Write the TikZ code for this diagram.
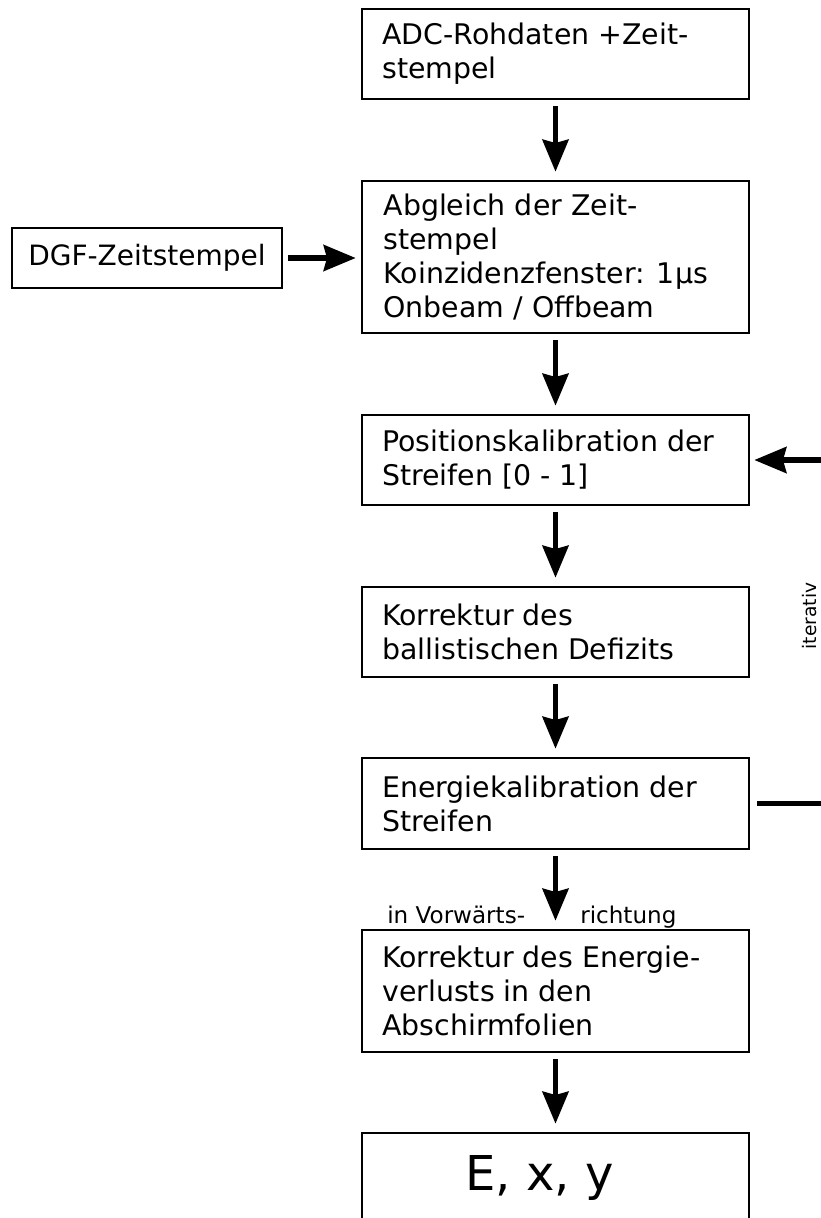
\documentclass[tikz,border=0pt]{standalone}
\usepackage{fontspec}
\setmainfont{DejaVu Sans}
\usetikzlibrary{arrows.meta}
\begin{document}
\begin{tikzpicture}[x=0.75pt,y=-0.75pt,
  box/.style={draw,line width=2pt,minimum width=290.25pt,inner sep=0pt},
  txt/.style={inner sep=0pt,align=left,anchor=west,font=\fontsize{21.3pt}{25.5pt}\selectfont},
  lbl/.style={inner sep=0pt,anchor=base west,font=\fontsize{17.3pt}{19pt}\selectfont},
  arr/.style={line width=3.8pt,-{Stealth[length=24pt,width=19.5pt,inset=2.5pt]}},
  vflow/.style={arr,shorten <=4.5pt,shorten >=6pt},
  plain/.style={line width=3.8pt}
]
\useasboundingbox (0,0) rectangle (821,1218);

% boxes
\node[box,minimum height=67.5pt] (b1) at (555.5,54) {};
\node[txt] (t1) at ([xshift=16pt]b1.west) {ADC-Rohdaten +Zeit-\\stempel};

\node[box,minimum height=114pt] (b2) at (555.5,257) {};
\node[txt] (t2) at ([xshift=17pt]b2.west) {Abgleich der Zeit-\\stempel\\Koinzidenzfenster: 1µs\\Onbeam / Offbeam};

\node[box,minimum width=202.5pt,minimum height=45pt,font=\fontsize{21pt}{25.5pt}\selectfont] (dgf) at (147,258) {DGF-Zeitstempel};

\node[box,minimum height=67.5pt] (b3) at (555.5,460) {};
\node[txt] (t3) at ([xshift=16pt]b3.west) {Positionskalibration der\\Streifen [0 - 1]};

\node[box,minimum height=67.5pt] (b4) at (555.5,632) {};
\node[txt] (t4) at ([xshift=16pt]b4.west) {Korrektur des\\ballistischen Defizits};

\node[box,minimum height=68.25pt] (b5) at (555.5,803.5) {};
\node[txt] (t5) at ([xshift=16pt]b5.west) {Energiekalibration der\\Streifen};

\node[box,minimum height=91.5pt] (b6) at (555.5,991) {};
\node[txt] (t6) at ([xshift=16pt]b6.west) {Korrektur des Energie-\\verlusts in den\\Abschirmfolien};

\node[box,minimum height=67.5pt] (b7) at (555.5,1178) {};
\node[inner sep=0pt,anchor=base west,font=\fontsize{36pt}{40pt}\selectfont] (t7) at (465,1190) {E, x, y};

% connectors
\draw[vflow] (b1) -- (b2);
\draw[vflow] (b2) -- (b3);
\draw[vflow] (b3) -- (b4);
\draw[vflow] (b4) -- (b5);
\draw[vflow] (b5) -- (b6);
\draw[vflow] (b6) -- (b7);
\draw[arr,shorten <=3.75pt,shorten >=3.75pt] (dgf.east) -- (dgf.east -| b2.west);

% iteration loop on the right
\coordinate (r3) at (840,460);
\coordinate (r5) at (840,803.5);
\draw[arr,shorten >=3pt] (r3) -- (r3 -| b3.east);
\draw[plain,shorten <=5pt] (b5.east) -- (r5);
\node[rotate=90,anchor=base,inner sep=0pt,font=\fontsize{14pt}{17pt}\selectfont] (it) at (816.5,616) {iterativ};

% labels
\node[lbl] (l1) at (387,923) {in Vorwärts-};
\node[lbl] (l2) at (580,923) {richtung};
\end{tikzpicture}
\end{document}
